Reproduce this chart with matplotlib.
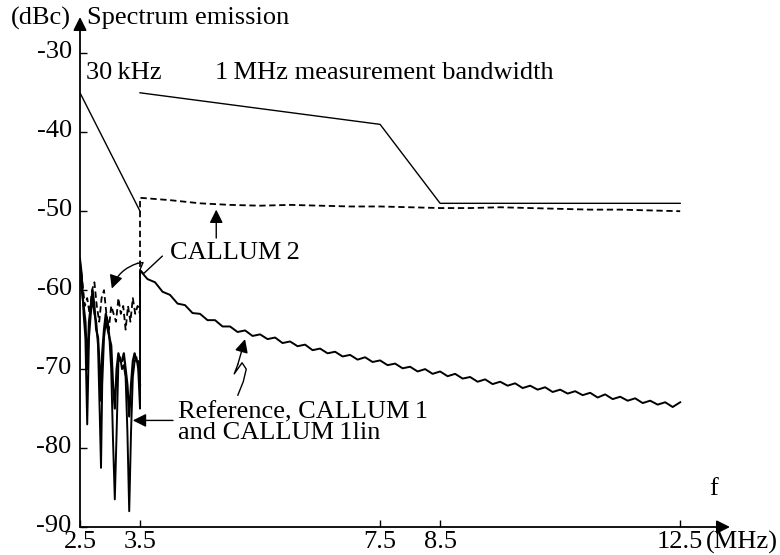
import numpy as np
import matplotlib
matplotlib.use("Agg")
import matplotlib.pyplot as plt
import matplotlib.transforms as mtransforms

plt.rcParams['font.family'] = ['Liberation Serif', 'DejaVu Serif']

# spectrum emission masks (MHz, dBc)
mask_30k_x = [2.5, 3.5]
mask_30k_y = [-35, -50]
mask_1m_x = [3.5, 7.5, 8.5, 12.5]
mask_1m_y = [-35, -39, -49, -49]

# Reference / CALLUM 1 / CALLUM 1lin, 30 kHz region (with notches)
near_x = [2.50, 2.53, 2.56, 2.59, 2.62, 2.65, 2.68, 2.71, 2.74, 2.77, 2.80, 2.83,
          2.85, 2.87, 2.90, 2.93, 2.96, 2.99, 3.02, 3.05, 3.08, 3.11, 3.14, 3.17,
          3.20, 3.23, 3.26, 3.29, 3.32, 3.35, 3.38, 3.41, 3.44, 3.47, 3.50]
ref_near_y = [-56, -58, -63, -66, -77, -66, -63, -61, -63, -64, -67, -76,
              -82.5, -72, -66, -64, -65, -66, -70, -79, -86.5, -78, -69, -68.5,
              -70, -69.5, -71, -78, -88, -78, -71, -69, -68.5, -70, -75]
c1_near_y = [-57, -60, -62, -64, -70, -64, -62, -60, -62, -65, -66, -70,
             -74, -68, -65, -63, -64, -66, -67, -72, -75, -70, -68, -69,
             -69, -68, -70, -72, -76, -72, -69, -68, -69, -69, -72]

# Reference, 1 MHz region
ref_far_x = np.linspace(3.5, 12.5, 73)
ref_far_y = [-57.5, -58.6, -59.0, -60.2, -60.6, -61.7, -61.9, -62.9, -63.0, -63.8,
             -63.8, -64.6, -64.6, -65.3, -65.1, -65.8, -65.6, -66.2, -66.0, -66.7,
             -66.5, -67.1, -66.9, -67.6, -67.4, -68.0, -67.8, -68.4, -68.2, -68.8,
             -68.5, -69.1, -68.9, -69.5, -69.3, -69.9, -69.7, -70.3, -70.0, -70.6,
             -70.3, -70.9, -70.6, -71.2, -71.0, -71.6, -71.3, -71.9, -71.6, -72.1,
             -71.8, -72.4, -72.1, -72.6, -72.3, -72.9, -72.6, -73.1, -72.8, -73.3,
             -73.0, -73.6, -73.2, -73.8, -73.5, -74.0, -73.7, -74.3, -74.0, -74.5,
             -74.2, -74.8, -74.2]

# CALLUM 2
c2_near_x = [2.50, 2.54, 2.58, 2.62, 2.66, 2.70, 2.74, 2.78, 2.82, 2.86, 2.90, 2.94,
             2.98, 3.02, 3.06, 3.10, 3.14, 3.18, 3.22, 3.26, 3.30, 3.34, 3.38, 3.42,
             3.46, 3.50]
c2_near_y = [-56.5, -59, -62, -61, -63, -60, -59, -62, -64, -61, -60, -63,
             -65, -62, -63, -64, -61, -63, -62, -65, -62, -64, -61, -63, -62, -63]
c2_far_x = [3.5, 4.0, 4.5, 5.0, 5.5, 6.0, 6.5, 7.0, 7.5, 8.0, 8.5, 9.0, 9.5,
            10.0, 10.5, 11.0, 11.5, 12.0, 12.5]
c2_far_y = [-48.3, -48.6, -49.0, -49.2, -49.3, -49.2, -49.3, -49.4, -49.4, -49.5,
            -49.6, -49.6, -49.5, -49.6, -49.7, -49.8, -49.8, -49.9, -50.0]

xticks = [2.5, 3.5, 7.5, 8.5, 12.5]
yticks = [-90, -80, -70, -60, -50, -40, -30]

fig = plt.figure(figsize=(7.8, 5.55), dpi=100)
ax = fig.add_axes([80 / 780, 28 / 555, 650 / 780, 510 / 555])
ax.set_xlim(2.5, 13.33)
ax.set_ylim(-90, -25.4)

fs = 19
ax.plot(mask_30k_x, mask_30k_y, color='k', lw=1.0)
ax.plot(mask_1m_x, mask_1m_y, color='k', lw=1.0)

ax.plot(near_x, c1_near_y, color='k', lw=1.6)
ax.plot(near_x + list(ref_far_x), ref_near_y + ref_far_y, color='k', lw=1.4)
ax.plot(c2_near_x + c2_far_x, c2_near_y + c2_far_y, color='k', lw=1.3,
        linestyle=(0, (3.5, 2)))

# axes drawn as arrows
for s in ax.spines.values():
    s.set_visible(False)
arr = dict(arrowstyle='-|>', color='k', lw=1.3, mutation_scale=20,
           shrinkA=0, shrinkB=0)
ax.annotate('', xy=(1, 0), xytext=(0, 0), xycoords='axes fraction', arrowprops=arr)
ax.annotate('', xy=(0, 1), xytext=(0, 0), xycoords='axes fraction', arrowprops=arr)

ax.set_xticks(xticks)
ax.set_xticklabels([str(v) for v in xticks])
ax.set_yticks(yticks)
ax.set_yticklabels([str(v) for v in yticks])
ax.tick_params(direction='in', length=5, width=1, labelsize=fs)
ax.tick_params(axis='x', pad=3)
ax.tick_params(axis='y', pad=6)
# y labels sit a little above their ticks
shift = mtransforms.ScaledTranslation(0, 4 / 100, fig.dpi_scale_trans)
for lab in ax.get_yticklabels():
    lab.set_transform(lab.get_transform() + shift)

ax.annotate('(MHz)', xy=(12.92, 0), xycoords=('data', 'axes fraction'),
            xytext=(0, -3), textcoords='offset points', ha='left', va='top',
            fontsize=fs, annotation_clip=False)
ax.text(13.05, -85.2, 'f', fontsize=fs, ha='center', va='center')
fig.text(11 / 780, 1 - 18 / 555, '(dBc)', fontsize=fs, ha='left', va='center')
fig.text(87 / 780, 1 - 18 / 555, 'Spectrum emission', fontsize=fs, ha='left', va='center')

ax.text(2.6, -32.5, '30\u2009kHz', fontsize=fs, ha='left', va='center')
ax.text(4.75, -32.5, '1\u2009MHz measurement bandwidth', fontsize=fs, ha='left', va='center')
ax.text(4.0, -55.3, 'CALLUM\u20092', fontsize=fs, ha='left', va='center')
ax.text(4.13, -76.8, 'Reference, CALLUM\u20091\nand CALLUM\u20091lin', fontsize=fs,
        ha='left', va='center', linespacing=0.9)

head = dict(arrowstyle='-|>', color='k', lw=1.0, mutation_scale=20,
            shrinkA=0, shrinkB=0)
ax.annotate('', xy=(4.77, -49.8), xytext=(4.77, -53.4), arrowprops=head)
ax.annotate('', xy=(3.38, -76.5), xytext=(4.05, -76.5), arrowprops=head)

# squiggly leaders
ax.plot([3.87, 3.56, 3.5, 3.55, 3.46], [-55.7, -57.9, -57.4, -56.5, -56.6],
        color='k', lw=1.0)
ax.annotate('', xy=(3.03, -59.8), xytext=(3.46, -56.6),
            arrowprops=dict(head, connectionstyle='arc3,rad=0.25'))
ax.plot([5.13, 5.22, 5.27, 5.2, 5.07, 5.13], [-73.3, -71.6, -70.0, -69.2, -70.6, -69.4],
        color='k', lw=1.0)
ax.annotate('', xy=(5.25, -66.2), xytext=(5.13, -69.4), arrowprops=head)

fig.savefig('out.png', dpi=100)
